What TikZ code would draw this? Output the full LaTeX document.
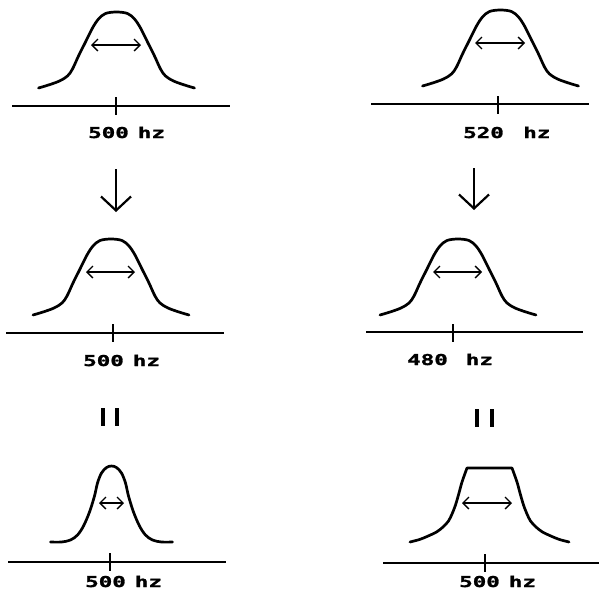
\documentclass[tikz,border=0pt]{standalone}
\usepackage{fontspec}
\newfontfamily\pixfont[BoldFeatures={FakeBold=1.2}]{DejaVu Sans Mono}
\usetikzlibrary{arrows.meta}
\newcommand{\narrowlabel}[1]{\scalebox{1.5}[1]{\pixfont\bfseries\fontsize{15}{15}\selectfont #1}}
\tikzset{
  bell/.style={line width=2.7pt, line join=round, line cap=round},
  axisline/.style={line width=1.5pt},
  tickline/.style={line width=1.5pt},
  widtharrow/.style={line width=1.3pt, {Straight Barb[length=6pt,width=12pt]}-{Straight Barb[length=6pt,width=12pt]}},
  downarrow/.style={line width=2.2pt, -{Straight Barb[length=14pt,width=30pt]}},
  eqbar/.style={line width=3.4pt},
  freqlabel/.style={inner sep=0pt, anchor=base west}
}
\newcommand{\stdbell}{plot[smooth, tension=0.55] coordinates {(-78,76) (-68,73) (-57,69) (-49,64) (-44,57) (-38,44) (-31,30) (-24,16) (-18,7) (-11,1.5) (0,0) (11,1.5) (18,7) (24,16) (31,30) (38,44) (44,57) (49,64) (57,69) (68,73) (78,76)}}
\begin{document}
\begin{tikzpicture}[x=1pt,y=-1pt]
\useasboundingbox (0,0) rectangle (599,592);
\fill[white] (0,0) rectangle (599,592);

% ---------- panel 1 ----------
\begin{scope}[shift={(116.5,12)}]
  \draw[bell] \stdbell;
\end{scope}
\coordinate (w1a) at (91,45); \coordinate (w1b) at (141,45);
\draw[widtharrow] (w1a) -- (w1b);
\coordinate (ax1a) at (12,106); \coordinate (ax1b) at (230,106);
\draw[axisline] (ax1a) -- (ax1b);
\coordinate (t1a) at (116,97); \coordinate (t1b) at (116,115);
\draw[tickline] (t1a) -- (t1b);
\node[freqlabel] (lab1) at (88,138) {\narrowlabel{500\hspace{6pt}hz}};
\coordinate (d1a) at (116,169); \coordinate (d1b) at (116,212);
\draw[downarrow] (d1a) -- (d1b);

% ---------- panel 2 ----------
\begin{scope}[shift={(500.5,10)}]
  \draw[bell] \stdbell;
\end{scope}
\coordinate (w2a) at (475,43); \coordinate (w2b) at (525,43);
\draw[widtharrow] (w2a) -- (w2b);
\coordinate (ax2a) at (371,104); \coordinate (ax2b) at (589,104);
\draw[axisline] (ax2a) -- (ax2b);
\coordinate (t2a) at (498,96); \coordinate (t2b) at (498,114);
\draw[tickline] (t2a) -- (t2b);
\node[freqlabel] (lab2) at (463,138) {\narrowlabel{520\hspace{13pt}hz}};
\coordinate (d2a) at (474,168); \coordinate (d2b) at (474,210);
\draw[downarrow] (d2a) -- (d2b);

% ---------- panel 3 ----------
\begin{scope}[shift={(111,239)}]
  \draw[bell] \stdbell;
\end{scope}
\coordinate (w3a) at (86,272); \coordinate (w3b) at (135,272);
\draw[widtharrow] (w3a) -- (w3b);
\coordinate (ax3a) at (6,333); \coordinate (ax3b) at (224,333);
\draw[axisline] (ax3a) -- (ax3b);
\coordinate (t3a) at (113,324); \coordinate (t3b) at (113,342);
\draw[tickline] (t3a) -- (t3b);
\node[freqlabel] (lab3) at (83,366) {\narrowlabel{500\hspace{6pt}hz}};

% ---------- panel 4 ----------
\begin{scope}[shift={(458,239)}]
  \draw[bell] \stdbell;
\end{scope}
\coordinate (w4a) at (433,272); \coordinate (w4b) at (482,272);
\draw[widtharrow] (w4a) -- (w4b);
\coordinate (ax4a) at (366,332); \coordinate (ax4b) at (583,332);
\draw[axisline] (ax4a) -- (ax4b);
\coordinate (t4a) at (453,324); \coordinate (t4b) at (453,342);
\draw[tickline] (t4a) -- (t4b);
\node[freqlabel] (lab4) at (407,365) {\narrowlabel{480\hspace{12pt}hz}};

% ---------- equals bars ----------
\coordinate (e1a) at (103,408); \coordinate (e1b) at (103,426);
\coordinate (e2a) at (117,408); \coordinate (e2b) at (117,426);
\draw[eqbar] (e1a) -- (e1b) (e2a) -- (e2b);
\coordinate (e3a) at (477,409); \coordinate (e3b) at (477,427);
\coordinate (e4a) at (492,409); \coordinate (e4b) at (492,427);
\draw[eqbar] (e3a) -- (e3b) (e4a) -- (e4b);

% ---------- panel 5 (narrow) ----------
\begin{scope}[shift={(111.5,466)}]
  \draw[bell] plot[smooth, tension=0.55] coordinates {(-61,76) (-50,76) (-41,74) (-34,69) (-28,60) (-22,46) (-17,30) (-14,17) (-10,7) (-5,1.5) (0,0) (5,1.5) (10,7) (14,17) (17,30) (22,46) (28,60) (34,69) (41,74) (50,76) (61,76)};
\end{scope}
\coordinate (w5a) at (99,503); \coordinate (w5b) at (124,503);
\draw[widtharrow] (w5a) -- (w5b);
\coordinate (ax5a) at (8,562); \coordinate (ax5b) at (226,562);
\draw[axisline] (ax5a) -- (ax5b);
\coordinate (t5a) at (110,553); \coordinate (t5b) at (110,571);
\draw[tickline] (t5a) -- (t5b);
\node[freqlabel] (lab5) at (85,587) {\narrowlabel{500\hspace{6pt}hz}};

% ---------- panel 6 (flat top) ----------
\begin{scope}[shift={(489.5,468)}]
  \draw[bell] plot[smooth, tension=0.5] coordinates {(-79.5,74) (-70,71.5) (-62.5,68.5) (-53,64) (-46.5,59) (-41,53) (-37.5,46) (-34,37) (-30.5,25) (-27.5,14) (-22.5,0)}
     -- plot[smooth, tension=0.5] coordinates {(22.5,0) (27.5,14) (30.5,25) (34,37) (37.5,46) (41,53) (46.5,59) (53,64) (62.5,68.5) (70,71.5) (79.5,74)};
\end{scope}
\coordinate (w6a) at (462,503); \coordinate (w6b) at (512,503);
\draw[widtharrow] (w6a) -- (w6b);
\coordinate (ax6a) at (383,563); \coordinate (ax6b) at (600,563);
\draw[axisline] (ax6a) -- (ax6b);
\coordinate (t6a) at (485,554); \coordinate (t6b) at (485,572);
\draw[tickline] (t6a) -- (t6b);
\node[freqlabel] (lab6) at (459,587) {\narrowlabel{500\hspace{6pt}hz}};
\end{tikzpicture}
\end{document}
